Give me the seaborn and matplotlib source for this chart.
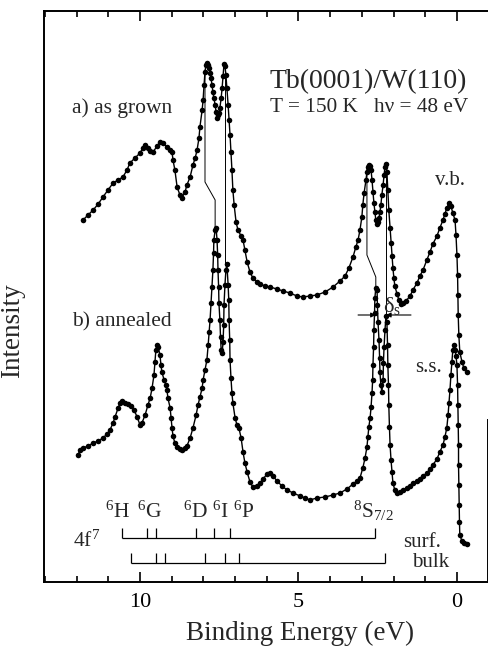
import matplotlib
matplotlib.use("Agg")
import matplotlib.pyplot as plt
import seaborn as sns
import pandas as pd

# ---------------- data (binding energy in eV, intensity in arb. units) ----------------
energy_a = [11.80, 11.64, 11.48, 11.32, 11.17, 11.01, 10.85, 10.69, 10.54, 10.41,
            10.32, 10.16, 10.00, 9.91, 9.84, 9.75, 9.68, 9.59, 9.46, 9.37,
            9.27, 9.15, 9.05, 8.99, 8.96, 8.90, 8.83, 8.74, 8.68, 8.58,
            8.52, 8.42, 8.33, 8.26, 8.20, 8.14, 8.11, 8.04, 8.01, 7.98,
            7.95, 7.92, 7.89, 7.85, 7.82, 7.79, 7.76, 7.73, 7.70, 7.67,
            7.63, 7.60, 7.57, 7.54, 7.51, 7.48, 7.44, 7.41, 7.38, 7.35,
            7.32, 7.29, 7.26, 7.22, 7.19, 7.16, 7.13, 7.10, 7.07, 7.03,
            6.97, 6.91, 6.81, 6.75, 6.69, 6.62, 6.53, 6.44, 6.31, 6.21,
            6.06, 5.90, 5.68, 5.49, 5.27, 5.05, 4.86, 4.64, 4.42, 4.16,
            3.91, 3.69, 3.53, 3.41, 3.28, 3.19, 3.12, 3.06, 3.00, 2.97,
            2.93, 2.87, 2.84, 2.81, 2.78, 2.74, 2.71, 2.68, 2.65, 2.62,
            2.59, 2.56, 2.52, 2.49, 2.46, 2.43, 2.40, 2.37, 2.33, 2.30,
            2.27, 2.24, 2.21, 2.18, 2.15, 2.11, 2.08, 2.05, 2.02, 1.99,
            1.96, 1.89, 1.83, 1.77, 1.70, 1.61, 1.48, 1.39, 1.26, 1.17,
            1.07, 0.95, 0.85, 0.76, 0.63, 0.54, 0.44, 0.38, 0.32, 0.25,
            0.19, 0.13, 0.06, 0.03, 0.00, -0.02, -0.03, -0.04, -0.06, -0.09,
            -0.16, -0.22, -0.32]
intensity_a = [362, 367, 372, 378, 385, 392, 399, 402, 405, 412,
               419, 424, 429, 434, 437, 434, 431, 430, 436, 440,
               439, 435, 432, 430, 422, 412, 395, 387, 384, 390,
               397, 405, 417, 424, 432, 444, 455, 472, 482, 497,
               510, 517, 519, 517, 514, 509, 504, 497, 490, 484,
               477, 470, 464, 467, 469, 474, 484, 494, 506, 518,
               516, 507, 494, 477, 462, 447, 430, 412, 392, 377,
               360, 352, 346, 342, 332, 320, 310, 304, 300, 298,
               296, 295, 293, 291, 289, 286, 285, 286, 287, 290,
               295, 301, 306, 314, 325, 335, 342, 352, 365, 377,
               389, 402, 410, 415, 417, 416, 412, 402, 390, 379,
               370, 362, 358, 360, 364, 370, 377, 387, 397, 407,
               415, 418, 410, 392, 372, 354, 339, 326, 314, 304,
               296, 288, 282, 278, 279, 281, 286, 292, 299, 306,
               312, 322, 330, 338, 346, 354, 362, 368, 374, 379,
               376, 369, 362, 347, 327, 307, 287, 267, 247, 230,
               220, 214, 210]

energy_b = [11.96, 11.89, 11.80, 11.64, 11.48, 11.32, 11.17, 11.04, 10.95, 10.85,
            10.79, 10.69, 10.63, 10.57, 10.47, 10.38, 10.28, 10.19, 10.09, 10.00,
            9.94, 9.84, 9.75, 9.68, 9.62, 9.56, 9.53, 9.50, 9.46, 9.43,
            9.37, 9.34, 9.31, 9.24, 9.18, 9.15, 9.12, 9.05, 9.02, 8.99,
            8.96, 8.90, 8.83, 8.74, 8.68, 8.58, 8.52, 8.42, 8.33, 8.23,
            8.17, 8.11, 8.04, 8.01, 7.95, 7.89, 7.85, 7.82, 7.79, 7.76,
            7.73, 7.70, 7.68, 7.67, 7.63, 7.60, 7.57, 7.55, 7.54, 7.52,
            7.51, 7.48, 7.46, 7.44, 7.41, 7.38, 7.36, 7.35, 7.32, 7.29,
            7.26, 7.22, 7.20, 7.19, 7.17, 7.16, 7.13, 7.10, 7.07, 7.00,
            6.94, 6.88, 6.81, 6.75, 6.69, 6.62, 6.53, 6.44, 6.31, 6.21,
            6.12, 5.99, 5.90, 5.80, 5.68, 5.52, 5.36, 5.17, 4.95, 4.79,
            4.64, 4.42, 4.16, 3.91, 3.69, 3.47, 3.28, 3.15, 3.06, 2.97,
            2.90, 2.84, 2.81, 2.78, 2.74, 2.71, 2.68, 2.66, 2.65, 2.63,
            2.62, 2.60, 2.59, 2.56, 2.52, 2.51, 2.49, 2.46, 2.44, 2.43,
            2.40, 2.37, 2.33, 2.32, 2.30, 2.27, 2.24, 2.21, 2.19, 2.18,
            2.16, 2.15, 2.13, 2.11, 2.08, 2.05, 2.02, 1.96, 1.89, 1.80,
            1.70, 1.58, 1.48, 1.39, 1.26, 1.17, 1.07, 0.95, 0.85, 0.76,
            0.63, 0.54, 0.44, 0.38, 0.32, 0.28, 0.25, 0.22, 0.19, 0.16,
            0.13, 0.09, 0.06, 0.03, 0.00, -0.02, -0.03, -0.04, -0.05, -0.05,
            -0.06, -0.07, -0.08, -0.09, -0.16, -0.22, -0.32]
intensity_b = [127, 132, 134, 136, 139, 141, 144, 148, 152, 159,
               165, 174, 179, 181, 179, 178, 176, 172, 165, 157,
               159, 167, 177, 184, 194, 207, 220, 232, 237, 235,
               227, 217, 210, 202, 197, 192, 184, 174, 164, 154,
               146, 139, 135, 133, 132, 134, 136, 144, 154, 167,
               177, 185, 194, 202, 212, 222, 237, 250, 262, 279,
               295, 312, 329, 342, 352, 354, 342, 327, 312, 295,
               279, 262, 245, 232, 229, 240, 257, 277, 297, 312,
               318, 297, 282, 262, 242, 222, 204, 189, 179, 164,
               157, 154, 144, 130, 119, 110, 100, 95, 96, 99,
               103, 108, 109, 106, 101, 96, 92, 89, 86, 84,
               82, 84, 85, 87, 89, 93, 98, 101, 104, 114,
               124, 135, 145, 155, 164, 175, 189, 202, 217, 235,
               252, 269, 284, 294, 292, 277, 260, 242, 224, 210,
               197, 190, 202, 219, 235, 252, 266, 260, 237, 217,
               197, 177, 155, 137, 122, 110, 99, 92, 89, 90,
               92, 94, 96, 99, 101, 103, 106, 109, 113, 117,
               123, 130, 137, 145, 154, 167, 179, 192, 207, 220,
               232, 237, 232, 226, 217, 197, 177, 157, 137, 117,
               97, 77, 60, 47, 41, 39, 38]

# 4f^7 final-state multiplet positions (eV)
multiplet_labels = [r"$\mathrm{^{6}H}$", r"$\mathrm{^{6}G}$", r"$\mathrm{^{6}D}$",
                    r"$\mathrm{^{6}I}$", r"$\mathrm{^{6}P}$", r"$\mathrm{^{8}S_{7/2}}$"]
surf_energies = [10.57, 9.78, 9.50, 8.23, 7.67, 7.16, 2.59]
bulk_energies = [10.28, 9.50, 9.21, 7.95, 7.32, 6.88, 2.27]

# guide lines linking as-grown and annealed peaks: (energy, intensity) vertices
guide_1_e = [7.95, 7.95, 7.63, 7.63]
guide_1_i = [512, 400, 382, 354]
guide_2_e = [7.32, 7.32]
guide_2_i = [519, 317]
guide_3_e = [2.84, 2.84, 2.56, 2.56]
guide_3_i = [416, 327, 305, 294]
guide_4_e = [2.24, 2.24]
guide_4_i = [418, 266]

# ---------------- figure ----------------
sns.set_theme(style="ticks")
plt.rcParams["font.family"] = ["Liberation Serif", "DejaVu Serif"]
plt.rcParams["mathtext.fontset"] = "custom"
plt.rcParams["mathtext.rm"] = "Liberation Serif"
plt.rcParams["mathtext.it"] = "Liberation Serif:italic"

fig = plt.figure(figsize=(4.89, 6.47), dpi=100)
ax = fig.add_axes([44 / 489, 65 / 647, 444 / 489, 571 / 647])

df_a = pd.DataFrame({"E": energy_a, "I": intensity_a})
df_b = pd.DataFrame({"E": energy_b, "I": intensity_b})
for df in (df_a, df_b):
    sns.lineplot(data=df, x="E", y="I", sort=False, estimator=None, ax=ax,
                 color="black", linewidth=1.0, marker="o", markersize=4.0,
                 markeredgewidth=0, markerfacecolor="black")

for ge, gi in ((guide_1_e, guide_1_i), (guide_2_e, guide_2_i),
               (guide_3_e, guide_3_i), (guide_4_e, guide_4_i)):
    ax.plot(ge, gi, color="black", linewidth=0.7)

# delta_s arrows
ax.annotate("", xy=(guide_3_e[-1], 267), xytext=(3.12, 267),
            arrowprops=dict(arrowstyle="-|>", lw=0.8, color="black",
                            mutation_scale=7, shrinkA=0, shrinkB=0))
ax.annotate("", xy=(guide_4_e[-1], 267), xytext=(1.45, 267),
            arrowprops=dict(arrowstyle="-|>", lw=0.8, color="black",
                            mutation_scale=7, shrinkA=0, shrinkB=0))

# surface / bulk multiplet bars
surf_y, bulk_y, tick_h = 44, 19, 10
ax.hlines(surf_y, min(surf_energies), max(surf_energies), color="black", lw=0.9)
ax.vlines(surf_energies, surf_y, surf_y + tick_h, color="black", lw=0.9)
ax.hlines(bulk_y, min(bulk_energies), max(bulk_energies), color="black", lw=0.9)
ax.vlines(bulk_energies, bulk_y, bulk_y + tick_h, color="black", lw=0.9)

# axes formatting
ax.set_xlim(13.03, -0.98)
ax.set_ylim(0, 571)
ax.set_xticks([10, 5, 0])
ax.set_xticks(range(0, 14), minor=True)
ax.set_yticks([])
ax.tick_params(axis="x", which="both", direction="in", top=True, bottom=True,
               labelsize=16, pad=8, width=1.2, colors="black")
ax.tick_params(axis="x", which="major", length=7)
ax.tick_params(axis="x", which="minor", length=4)
for s in ax.spines.values():
    s.set_linewidth(1.4)
    s.set_color("black")
ax.spines["right"].set_bounds(0, 162)

ax.set_xlabel("Binding Energy (eV)", fontsize=19.5)
ax.xaxis.set_label_coords(0.576, -0.068)
ax.set_ylabel("Intensity", fontsize=19.5)
ax.yaxis.set_label_coords(-0.043, 0.44)

tr = ax.transAxes
ax.text(0.509, 0.865, "Tb(0001)/W(110)", transform=tr, fontsize=20, va="baseline")
ax.text(0.509, 0.823, "T = 150 K   h\u03bd = 48 eV", transform=tr, fontsize=15.3, va="baseline")
ax.text(0.063, 0.821, "a) as grown", transform=tr, fontsize=15.5, va="baseline")
ax.text(0.063, 0.447, "b) annealed", transform=tr, fontsize=15.5, va="baseline")
ax.text(0.914, 0.695, "v.b.", transform=tr, fontsize=15, ha="center", va="baseline")
ax.text(0.865, 0.368, "s.s.", transform=tr, fontsize=15, ha="center", va="baseline")
ax.text(0.784, 0.473, r"$\mathrm{\delta_s}$", transform=tr, fontsize=16, ha="center", va="baseline")
ax.text(0.065, 0.061, r"4f$\mathrm{^{7}}$", transform=tr, fontsize=15.5, va="baseline")
for lab, xf in zip(multiplet_labels, [0.137, 0.209, 0.313, 0.378, 0.426, 0.696]):
    ax.text(xf, 0.112, lab, transform=tr, fontsize=15.5, va="baseline")
ax.text(0.809, 0.061, "surf.", transform=tr, fontsize=15, va="baseline")
ax.text(0.829, 0.026, "bulk", transform=tr, fontsize=15, va="baseline")

fig.savefig("out.png", dpi=100)
